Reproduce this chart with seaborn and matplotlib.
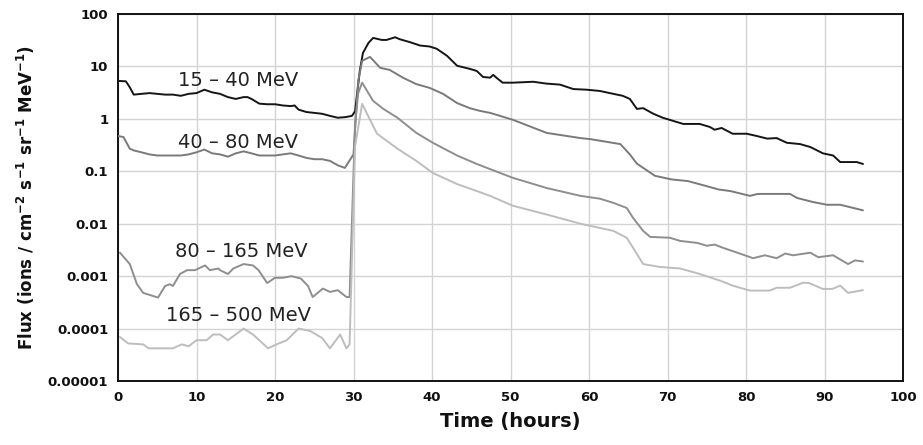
import numpy as np
import pandas as pd
import matplotlib
matplotlib.use("Agg")
import matplotlib.pyplot as plt
import seaborn as sns

# ---- data ----
t_15_40 = [0, 1, 1.5, 2, 3, 4, 5, 6, 7, 8, 9, 10, 11, 12, 13, 14, 15, 16, 16.5, 17, 18, 19, 20, 21, 22,
           22.5, 23, 24, 25, 26, 27, 28, 29, 29.8, 30.2, 30.8, 31.2, 31.9, 32.5, 33.6, 34.2, 35.3, 35.9,
           37.2, 38.5, 39.7, 40.6, 41.9, 43.2, 44.8, 45.7, 46.5, 47.4, 47.8, 48.2, 49, 50.3, 52.9, 54.6,
           56.3, 58, 59.7, 61.4, 63.1, 64.3, 65.2, 66.1, 66.9, 68.2, 69.4, 72, 74.1, 75.4, 76, 76.9, 78.3,
           80.1, 81.4, 82.7, 83.9, 85.2, 86.9, 88.2, 89.8, 91.1, 92, 94.1, 94.9]
f_15_40 = [5.3, 5.2, 4.0, 2.9, 3.0, 3.1, 3.0, 2.9, 2.9, 2.75, 3.0, 3.1, 3.6, 3.2, 3.0, 2.6, 2.4, 2.6, 2.6,
           2.4, 1.95, 1.9, 1.9, 1.8, 1.75, 1.8, 1.5, 1.35, 1.3, 1.25, 1.14, 1.05, 1.08, 1.14, 1.4, 8.2, 18,
           28, 35, 32, 32, 36, 33, 29, 25, 24, 21.7, 16, 10.3, 9.0, 8.2, 6.3, 6.1, 6.9, 6.1, 4.9, 4.9, 5.1,
           4.7, 4.5, 3.7, 3.6, 3.4, 3.0, 2.75, 2.4, 1.55, 1.6, 1.25, 1.05, 0.8, 0.8, 0.7, 0.62, 0.67, 0.52,
           0.52, 0.47, 0.42, 0.43, 0.35, 0.33, 0.29, 0.22, 0.2, 0.15, 0.15, 0.138]

t_40_80 = [0, 0.7, 1.5, 2, 3, 4, 5, 6, 7, 8, 9, 10, 11, 12, 13, 14, 15, 16, 17, 18, 19, 20, 21, 22, 23,
           24, 25, 26, 27, 28, 28.9, 30, 30.6, 31.1, 32.1, 33.4, 34.6, 36.3, 38, 39.7, 41.4, 43.2, 44.8,
           46.1, 47.4, 50.3, 54.6, 58.9, 60.2, 62, 64, 65.2, 66.1, 68.4, 70.5, 72.6, 74.8, 76.5, 78,
           80.5, 81.5, 85.6, 86.5, 88.5, 90.3, 92, 94.9]
f_40_80 = [0.47, 0.45, 0.27, 0.25, 0.23, 0.21, 0.2, 0.2, 0.2, 0.2, 0.21, 0.23, 0.26, 0.22, 0.21, 0.19,
           0.22, 0.24, 0.22, 0.2, 0.2, 0.2, 0.21, 0.22, 0.2, 0.18, 0.17, 0.17, 0.158, 0.13, 0.116, 0.21,
           5.3, 12.8, 15.2, 9.4, 8.6, 6.1, 4.6, 3.9, 3.0, 2.0, 1.6, 1.42, 1.3, 0.96, 0.54, 0.43, 0.41,
           0.37, 0.33, 0.21, 0.14, 0.082, 0.07, 0.065, 0.053, 0.045, 0.042, 0.034, 0.037, 0.037, 0.031,
           0.026, 0.023, 0.023, 0.018]

t_80_165 = [0.25, 1.5, 2.4, 3.2, 5.1, 6, 6.6, 7, 7.9, 8.8, 9.8, 11.1, 11.7, 12.8, 13, 14, 14.7, 16, 17.2,
            17.9, 19, 20, 21, 22.1, 23.3, 24.2, 24.8, 26.1, 27, 28, 29.1, 29.5, 30.2, 30.6, 31.1, 32.5,
            33.8, 35.6, 38, 40.1, 43.2, 45.7, 47.4, 50.3, 54.6, 58.9, 61.4, 63.1, 64.8, 65.6, 66.9, 67.8,
            70.3, 71.6, 73.8, 75, 76, 77, 79.2, 80.9, 82.4, 83.9, 85, 86, 88.2, 89.2, 91.1, 93, 93.9, 94.9]
f_80_165 = [0.0028, 0.0017, 0.00071, 0.00048, 0.00039, 0.00065, 0.0007, 0.00065, 0.0011, 0.0013, 0.0013,
            0.0016, 0.0013, 0.0014, 0.0013, 0.0011, 0.0014, 0.0017, 0.0016, 0.0013, 0.00074, 0.00093,
            0.00093, 0.001, 0.0009, 0.00065, 0.0004, 0.00058, 0.0005, 0.00054, 0.0004, 0.0004, 0.8, 3.1,
            4.9, 2.2, 1.55, 1.05, 0.54, 0.35, 0.2, 0.138, 0.11, 0.075, 0.048, 0.034, 0.03, 0.025, 0.02,
            0.013, 0.0073, 0.0056, 0.0054, 0.0047, 0.0043, 0.0038, 0.004, 0.0035, 0.0027, 0.0022, 0.0025,
            0.0022, 0.0027, 0.0025, 0.0028, 0.0023, 0.0025, 0.0017, 0.002, 0.0019]

t_165_500 = [0.25, 1.3, 3.2, 3.9, 7, 8.1, 9, 10, 11.3, 12.1, 13, 14, 16, 17.2, 18, 19.1, 20.2, 21.5, 23,
             24.5, 26, 27, 28.3, 29.1, 29.5, 30.2, 31.1, 33, 35.6, 38, 40.1, 43.2, 45.7, 47.4, 50.3, 54.6,
             58.9, 61.4, 63.1, 64.8, 65.6, 66.9, 69, 71.6, 74.1, 76.7, 78.3, 80.5, 83, 83.9, 85.6, 87.3,
             88, 89.8, 91, 92, 93, 94.9]
f_165_500 = [0.000069, 0.000052, 0.00005, 0.000042, 0.000042, 0.00005, 0.000046, 0.00006, 0.00006,
             0.000077, 0.000077, 0.00006, 0.0001, 0.000077, 0.00006, 0.000042, 0.00005, 0.00006, 0.0001,
             0.00009, 0.000066, 0.000042, 0.000077, 0.000042, 0.00005, 0.3, 1.93, 0.52, 0.27, 0.158,
             0.093, 0.057, 0.042, 0.034, 0.022, 0.015, 0.01, 0.0083, 0.0073, 0.0054, 0.0035, 0.0017,
             0.0015, 0.0014, 0.0011, 0.00082, 0.00066, 0.00053, 0.00053, 0.0006, 0.0006, 0.00075,
             0.00074, 0.00057, 0.00057, 0.00066, 0.00048, 0.00054]

series_names = ["15 \u2013 40 MeV", "40 \u2013 80 MeV", "80 \u2013 165 MeV", "165 \u2013 500 MeV"]
series_colors = ["#151515", "#7a7a7a", "#8e8e8e", "#bdbdbd"]
label_pos_t = [15.3, 15.3, 15.7, 15.4]
label_pos_f = [5.5, 0.36, 0.003, 0.000174]

y_ticks = [1e2, 1e1, 1e0, 1e-1, 1e-2, 1e-3, 1e-4, 1e-5]
y_tick_labels = ["100", "10", "1", "0.1", "0.01", "0.001", "0.0001", "0.00001"]
x_ticks = list(range(0, 101, 10))

# ---- build long table ----
frames = []
for name, t, f in zip(series_names,
                      [t_15_40, t_40_80, t_80_165, t_165_500],
                      [f_15_40, f_40_80, f_80_165, f_165_500]):
    frames.append(pd.DataFrame({"time": t, "flux": f, "band": name}))
df = pd.concat(frames, ignore_index=True)

sns.set_style("white")
plt.rcParams["font.family"] = ["DejaVu Sans"]

fig = plt.figure(figsize=(9.23, 4.45), dpi=100)
ax = fig.add_axes([118 / 923, 1 - 381 / 445, (903 - 118) / 923, (381 - 14) / 445])

sns.lineplot(data=df, x="time", y="flux", hue="band", palette=dict(zip(series_names, series_colors)),
             estimator=None, sort=False, linewidth=1.4, legend=False, ax=ax, zorder=3)

ax.set_yscale("log")
ax.set_xlim(0, 100)
ax.set_ylim(1e-5, 100)
ax.set_xticks(x_ticks)
ax.set_xticklabels([str(v) for v in x_ticks])
ax.set_yticks(y_ticks)
ax.set_yticklabels(y_tick_labels)
ax.yaxis.set_minor_locator(matplotlib.ticker.NullLocator())

ax.grid(True, which="major", color="#d4d4d4", linewidth=1.0, zorder=0)
for s in ax.spines.values():
    s.set_visible(True)
    s.set_color("#111111")
    s.set_linewidth(1.4)

ax.tick_params(axis="both", which="major", direction="out", length=4, width=1.2, color="#111111",
               labelsize=9.5, pad=3)
for lab in ax.get_xticklabels() + ax.get_yticklabels():
    lab.set_fontweight("bold")
    lab.set_color("#111111")

ax.set_xlabel("Time (hours)", fontsize=14, fontweight="bold", labelpad=6, color="#111111")
ax.set_ylabel("Flux (ions / cm$^{\\mathbf{-2}}$ s$^{\\mathbf{-1}}$ sr$^{\\mathbf{-1}}$ MeV$^{\\mathbf{-1}}$)",
              fontsize=12, fontweight="bold", labelpad=8, color="#111111")

for name, tx, fy in zip(series_names, label_pos_t, label_pos_f):
    ax.text(tx, fy, name, ha="center", va="center", fontsize=14, color="#222222", zorder=4)

fig.savefig("out.png", dpi=100)
